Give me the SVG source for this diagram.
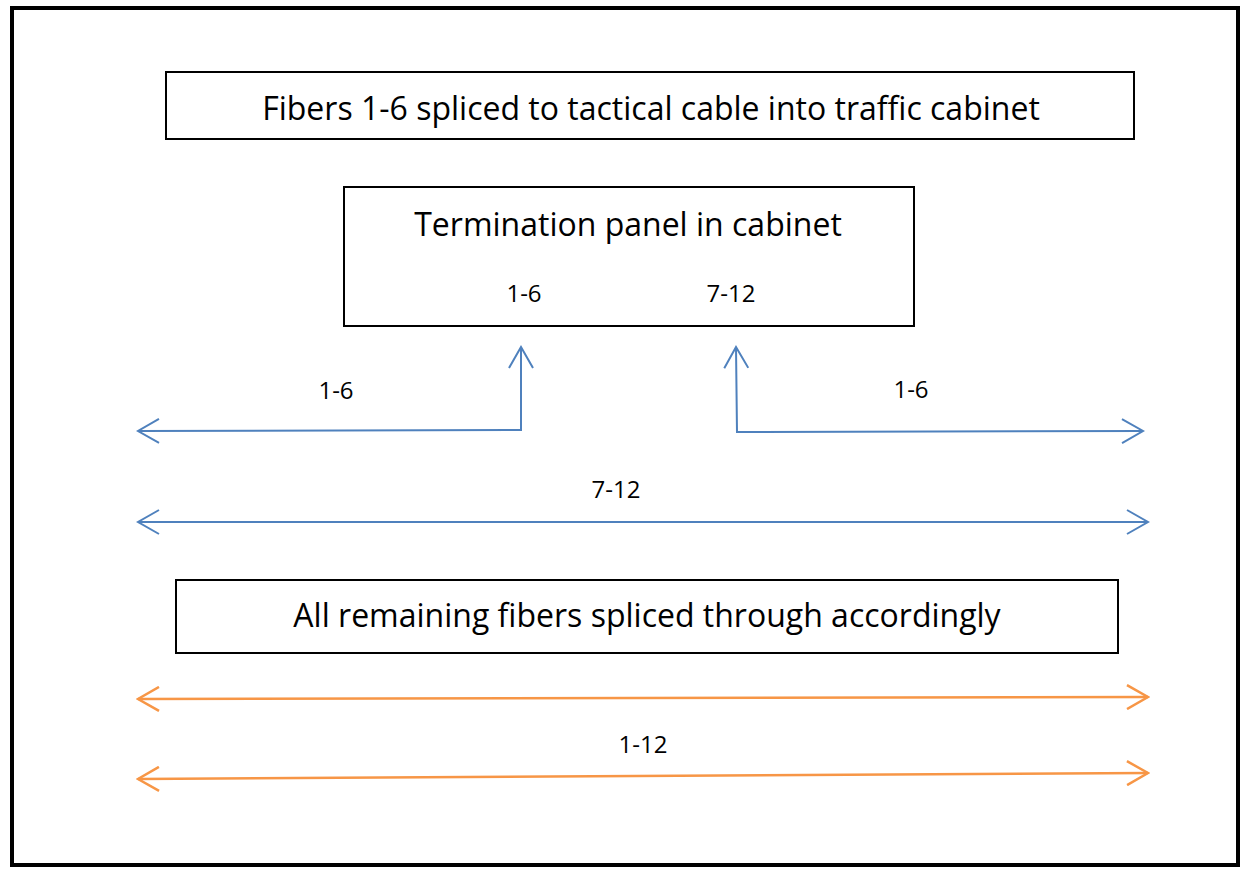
<svg xmlns="http://www.w3.org/2000/svg" width="1243" height="869" viewBox="0 0 1243 869">
<style>
.box{fill:#fff;stroke:#000;stroke-width:2}
.t{font-family:"Open Sans","Liberation Sans",sans-serif;fill:#000;text-anchor:middle}
.big{font-size:32px}
.sm{font-size:24px}
.blue{fill:none;stroke:#4f81bd;stroke-width:2}
.orange{fill:none;stroke:#f79646;stroke-width:2.5}
</style>
<defs>
<marker id="ab" viewBox="0 0 24 26" refX="22" refY="13" markerWidth="24" markerHeight="26" markerUnits="userSpaceOnUse" orient="auto-start-reverse">
<path d="M1,1 L22,13 L1,25" fill="none" stroke="#4f81bd" stroke-width="2"/>
</marker>
<marker id="ao" viewBox="0 0 24 26" refX="22" refY="13" markerWidth="24" markerHeight="26" markerUnits="userSpaceOnUse" orient="auto-start-reverse">
<path d="M1,1 L22,13 L1,25" fill="none" stroke="#f79646" stroke-width="2.5"/>
</marker>
</defs>
<rect x="0" y="0" width="1243" height="869" fill="#fff"/>
<rect x="12" y="8" width="1226" height="857" fill="none" stroke="#000" stroke-width="4"/>
<g id="title">
<rect class="box" x="166" y="72" width="968" height="67"/>
<text class="t big" x="651" y="120">Fibers 1-6 spliced to tactical cable into traffic cabinet</text>
</g>
<g id="panel">
<rect class="box" x="344" y="187" width="570" height="139"/>
<text class="t big" x="628" y="236">Termination panel in cabinet</text>
<text class="t sm" x="524" y="302">1-6</text>
<text class="t sm" x="731" y="302">7-12</text>
</g>
<g id="remaining">
<rect class="box" x="176" y="580" width="942" height="73"/>
<text class="t big" x="647" y="627">All remaining fibers spliced through accordingly</text>
</g>
<g id="connectors">
<path class="blue" d="M138,431 L521,430 L521,347" marker-start="url(#ab)" marker-end="url(#ab)"/>
<path class="blue" d="M736,347 L737,432 L1143,431" marker-start="url(#ab)" marker-end="url(#ab)"/>
<path class="blue" d="M138,522 L1148,522" marker-start="url(#ab)" marker-end="url(#ab)"/>
<path class="orange" d="M138,699 L1148,697" marker-start="url(#ao)" marker-end="url(#ao)"/>
<path class="orange" d="M138,779 L1148,773" marker-start="url(#ao)" marker-end="url(#ao)"/>
</g>
<g id="labels">
<text class="t sm" x="336" y="399">1-6</text>
<text class="t sm" x="911" y="398">1-6</text>
<text class="t sm" x="616" y="498">7-12</text>
<text class="t sm" x="643" y="753">1-12</text>
</g>
</svg>
